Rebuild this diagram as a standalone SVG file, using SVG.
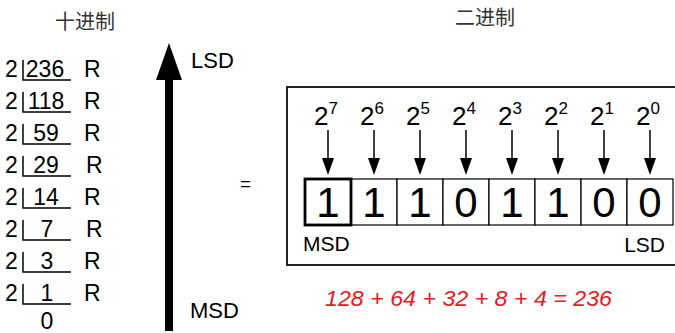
<svg xmlns="http://www.w3.org/2000/svg" width="675" height="333" viewBox="0 0 675 333">
  <defs>
    <style>
      .t { font-family: "Liberation Sans", Arial, sans-serif; fill: #000; }
      .cjk { font-family: "Noto Sans CJK SC", sans-serif; fill: #333; font-size: 20px; }
      .div { font-size: 23px; }
      .mid { text-anchor: middle; }
      .base { font-size: 26px; }
      .sup { font-size: 17px; }
      .bit { font-size: 42px; text-anchor: middle; }
      .lbl { font-size: 22px; }
      .blbl { font-size: 21px; }
      .cell { fill: #fff; stroke: #000; stroke-width: 1.2; }
      .bracket { fill: none; stroke: #000; stroke-width: 1.5; }
      .arr { stroke: #000; stroke-width: 1.5; }
      .red { font-family: "Liberation Sans", Arial, sans-serif; font-style: italic; font-size: 22px; fill: #e31b23; }
    </style>
  </defs>

  <rect width="675" height="333" fill="#fff"/>

  <!-- Titles -->
  <text id="title-dec" class="cjk" x="55" y="29">十进制</text>
  <text id="title-bin" class="cjk" x="455" y="25">二进制</text>

  <!-- Decimal division column -->
  <g id="division">
    <g class="t div">
      <text x="5" y="77">2</text>
      <text x="5" y="109">2</text>
      <text x="5" y="141">2</text>
      <text x="5" y="173">2</text>
      <text x="5" y="205">2</text>
      <text x="5" y="237">2</text>
      <text x="5" y="269">2</text>
      <text x="5" y="301">2</text>
    </g>
    <g class="t div mid">
      <text x="45" y="77">236</text>
      <text x="46" y="109">118</text>
      <text x="46" y="141">59</text>
      <text x="46" y="173">29</text>
      <text x="46" y="205">14</text>
      <text x="47" y="237">7</text>
      <text x="47" y="269">3</text>
      <text x="47" y="301">1</text>
      <text x="47" y="329">0</text>
    </g>
    <g class="t div">
      <text x="84" y="77">R</text>
      <text x="84" y="109">R</text>
      <text x="84" y="141">R</text>
      <text x="86" y="173">R</text>
      <text x="84" y="205">R</text>
      <text x="86" y="237">R</text>
      <text x="84" y="269">R</text>
      <text x="84" y="301">R</text>
    </g>
    <g class="bracket">
      <path d="M23,60 V80 H71"/>
      <path d="M23,92 V112 H71"/>
      <path d="M23,124 V144 H71"/>
      <path d="M23,156 V176 H71"/>
      <path d="M23,188 V208 H71"/>
      <path d="M23,220 V240 H71"/>
      <path d="M23,252 V272 H71"/>
      <path d="M23,284 V304 H71"/>
    </g>
  </g>

  <!-- Big arrow -->
  <g id="big-arrow">
    <rect x="165" y="78" width="8" height="253" fill="#000"/>
    <polygon points="169,43 156,80 182,80" fill="#000"/>
    <text class="t lbl" x="191" y="68">LSD</text>
    <text class="t lbl" x="190" y="318">MSD</text>
  </g>

  <text id="equals" class="t" x="240" y="190" font-size="19">=</text>

  <!-- Binary box -->
  <g id="binary-box">
    <rect x="287" y="87" width="395" height="178" fill="none" stroke="#222" stroke-width="2"/>
  </g>

  <!-- Power labels -->
  <g id="powers" class="t">
    <text class="base" x="314" y="125">2</text><text class="sup" x="328.5" y="114">7</text>
    <text class="base" x="360" y="125">2</text><text class="sup" x="374.5" y="114">6</text>
    <text class="base" x="406" y="125">2</text><text class="sup" x="420.5" y="114">5</text>
    <text class="base" x="452" y="125">2</text><text class="sup" x="466.5" y="114">4</text>
    <text class="base" x="498" y="125">2</text><text class="sup" x="512.5" y="114">3</text>
    <text class="base" x="544" y="125">2</text><text class="sup" x="558.5" y="114">2</text>
    <text class="base" x="590" y="125">2</text><text class="sup" x="604.5" y="114">1</text>
    <text class="base" x="636" y="125">2</text><text class="sup" x="650.5" y="114">0</text>
  </g>

  <!-- Connectors -->
  <g id="connectors">
    <g class="arr">
      <line x1="328" y1="130" x2="328" y2="160"/>
      <line x1="374" y1="130" x2="374" y2="160"/>
      <line x1="420" y1="130" x2="420" y2="160"/>
      <line x1="466" y1="130" x2="466" y2="160"/>
      <line x1="512" y1="130" x2="512" y2="160"/>
      <line x1="558" y1="130" x2="558" y2="160"/>
      <line x1="604" y1="130" x2="604" y2="160"/>
      <line x1="650" y1="130" x2="650" y2="160"/>
    </g>
    <g fill="#000">
      <polygon points="322,158 334,158 328,175"/>
      <polygon points="368,158 380,158 374,175"/>
      <polygon points="414,158 426,158 420,175"/>
      <polygon points="460,158 472,158 466,175"/>
      <polygon points="506,158 518,158 512,175"/>
      <polygon points="552,158 564,158 558,175"/>
      <polygon points="598,158 610,158 604,175"/>
      <polygon points="644,158 656,158 650,175"/>
    </g>
  </g>

  <!-- Bit cells -->
  <g id="cells">
    <rect class="cell" x="351" y="179" width="46" height="46"/>
    <rect class="cell" x="397" y="179" width="46" height="46"/>
    <rect class="cell" x="443" y="179" width="46" height="46"/>
    <rect class="cell" x="489" y="179" width="46" height="46"/>
    <rect class="cell" x="535" y="179" width="46" height="46"/>
    <rect class="cell" x="581" y="179" width="46" height="46"/>
    <rect class="cell" x="627" y="179" width="46" height="46"/>
    <rect x="305" y="179" width="46" height="46" fill="#fff" stroke="#000" stroke-width="2.8"/>
    <g class="t bit">
      <text x="328" y="217">1</text>
      <text x="374" y="217">1</text>
      <text x="420" y="217">1</text>
      <text x="466" y="217">0</text>
      <text x="512" y="217">1</text>
      <text x="558" y="217">1</text>
      <text x="604" y="217">0</text>
      <text x="650" y="217">0</text>
    </g>
    <text class="t blbl" x="303" y="251">MSD</text>
    <text class="t blbl" x="665" y="252" text-anchor="end">LSD</text>
  </g>

  <text id="sum" class="red" x="325" y="306" textLength="287" lengthAdjust="spacingAndGlyphs">128 + 64 + 32 + 8 + 4 = 236</text>
</svg>
